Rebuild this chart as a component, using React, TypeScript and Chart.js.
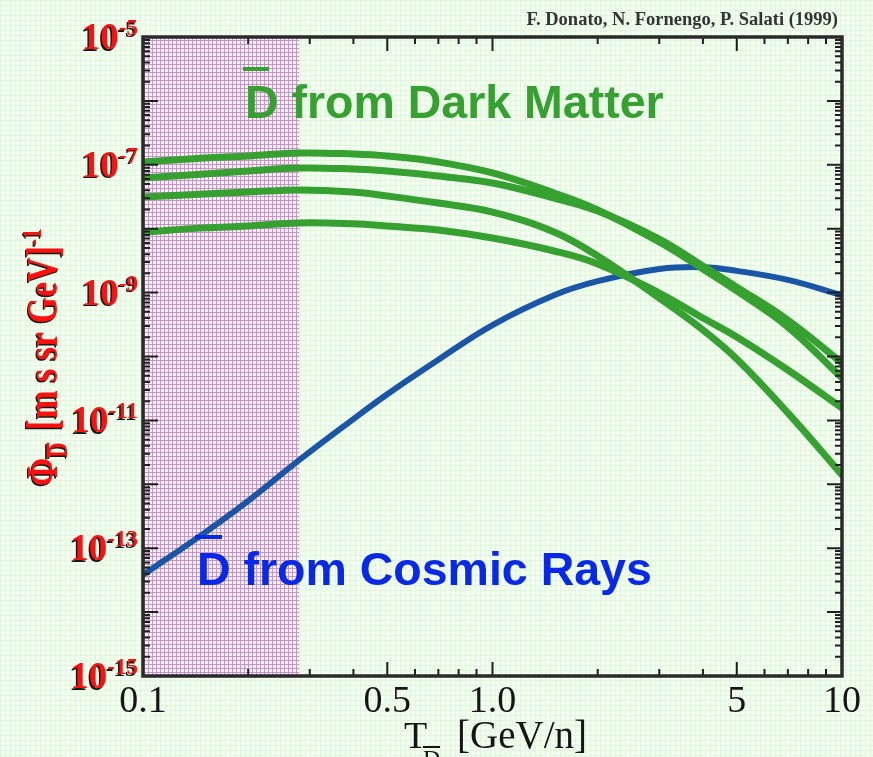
import { useEffect, useRef } from "react";
import { Chart, registerables } from "chart.js";

Chart.register(...registerables);

// Kinetic energy per nucleon [GeV/n]
const ENERGY = [0.1, 0.15, 0.2, 0.28, 0.4, 0.5, 0.7, 1.0, 1.5, 2, 3, 4, 5, 7, 10];

// Antideuteron flux from cosmic rays
const COSMIC = [3.8e-14, 1.74e-13, 5.5e-13, 2.4e-12, 1.05e-11, 2.57e-11, 8.9e-11, 3.11e-10, 9.1e-10, 1.51e-9, 2.34e-9, 2.5e-9, 2.19e-9, 1.58e-9, 9.1e-10];

// Antideuteron flux from dark matter (four models)
const DM_A = [1.107e-7, 1.276e-7, 1.374e-7, 1.531e-7, 1.476e-7, 1.374e-7, 1.107e-7, 7.45e-8, 3.62e-8, 1.96e-8, 6.19e-9, 2.34e-9, 1.06e-9, 2.9e-10, 4.61e-11];
const DM_B = [6.21e-8, 7.18e-8, 8.0e-8, 8.91e-8, 8.59e-8, 8.0e-8, 6.68e-8, 5.19e-8, 3.02e-8, 1.89e-8, 6.9e-9, 2.61e-9, 1.22e-9, 3.72e-10, 7.91e-11];
const DM_C = [3.13e-8, 3.49e-8, 3.75e-8, 4.04e-8, 3.75e-8, 3.25e-8, 2.52e-8, 1.82e-8, 8.87e-9, 3.74e-9, 8.22e-10, 2.6e-10, 9.14e-11, 1.31e-11, 1.4e-12];
const DM_D = [8.87e-9, 1.03e-8, 1.1e-8, 1.23e-8, 1.19e-8, 1.1e-8, 9.55e-9, 7.14e-9, 4.48e-9, 2.81e-9, 9.86e-10, 4.01e-10, 2.02e-10, 6.15e-11, 1.56e-11];

// Axis ticks
const X_MAJOR = [0.1, 0.5, 1, 5, 10];
const X_LABELS = ["0.1", "0.5", "1.0", "5", "10"];
const X_MINOR = [0.2, 0.3, 0.4, 0.6, 0.7, 0.8, 0.9, 2, 3, 4, 6, 7, 8, 9];
const Y_DECADES = [-15, -14, -13, -12, -11, -10, -9, -8, -7, -6, -5];
const Y_LABEL_EXPONENTS = [-5, -7, -9, -11, -13, -15];

// Shaded (solar modulation) region upper edge
const SHADE_MAX = 0.28;

const AUTHORS = "F. Donato, N. Fornengo, P. Salati (1999)";
const DM_TEXT = "D from Dark Matter";
const CR_TEXT = "D from Cosmic Rays";

const GREEN = "#36a031";
const BLUE_LINE = "#1a55a6";
const BLUE_TEXT = "#0a28e8";
const RED = "#ff1010";

function makePattern(ctx: CanvasRenderingContext2D) {
  const c = document.createElement("canvas");
  c.width = 4;
  c.height = 4;
  const p = c.getContext("2d")!;
  p.fillStyle = "#f7eff7";
  p.fillRect(0, 0, 4, 4);
  p.fillStyle = "#c198c1";
  p.fillRect(0, 0, 4, 1);
  p.fillRect(0, 0, 1, 4);
  return ctx.createPattern(c, "repeat")!;
}

const decor = {
  id: "decor",
  beforeDatasetsDraw(chart: any) {
    const { ctx, chartArea: a, scales } = chart;
    const x = scales.x;
    const x0 = x.getPixelForValue(ENERGY[0]);
    const x1 = x.getPixelForValue(SHADE_MAX);
    ctx.save();
    ctx.fillStyle = makePattern(ctx);
    ctx.fillRect(x0, a.top, x1 - x0, a.bottom - a.top);
    ctx.restore();
  },
  afterDatasetsDraw(chart: any) {
    const { ctx, chartArea: a, scales } = chart;
    const x = scales.x;
    const y = scales.y;
    ctx.save();

    // ticks (inward, all four sides)
    ctx.strokeStyle = "#1e1e1e";
    ctx.lineWidth = 2;
    ctx.beginPath();
    for (const e of Y_DECADES) {
      const py = y.getPixelForValue(Math.pow(10, e));
      ctx.moveTo(a.left, py);
      ctx.lineTo(a.left + 15, py);
      ctx.moveTo(a.right, py);
      ctx.lineTo(a.right - 15, py);
      if (e < -5) {
        for (let m = 2; m <= 9; m++) {
          const pm = y.getPixelForValue(m * Math.pow(10, e));
          ctx.moveTo(a.left, pm);
          ctx.lineTo(a.left + 7, pm);
          ctx.moveTo(a.right, pm);
          ctx.lineTo(a.right - 7, pm);
        }
      }
    }
    for (const v of X_MAJOR) {
      const px = x.getPixelForValue(v);
      ctx.moveTo(px, a.bottom);
      ctx.lineTo(px, a.bottom - 14);
      ctx.moveTo(px, a.top);
      ctx.lineTo(px, a.top + 14);
    }
    for (const v of X_MINOR) {
      const px = x.getPixelForValue(v);
      ctx.moveTo(px, a.bottom);
      ctx.lineTo(px, a.bottom - 7);
      ctx.moveTo(px, a.top);
      ctx.lineTo(px, a.top + 7);
    }
    ctx.stroke();

    // frame
    ctx.strokeStyle = "#2a2a2a";
    ctx.lineWidth = 3.5;
    ctx.strokeRect(a.left, a.top, a.right - a.left, a.bottom - a.top);

    // x tick labels
    ctx.fillStyle = "#151515";
    ctx.font = '38px "Liberation Serif"';
    ctx.textAlign = "center";
    ctx.textBaseline = "alphabetic";
    X_MAJOR.forEach((v, i) => {
      ctx.fillText(X_LABELS[i], x.getPixelForValue(v), a.bottom + 36);
    });

    // x title: T_Dbar [GeV/n]
    ctx.textAlign = "left";
    ctx.font = '38px "Liberation Serif"';
    ctx.fillText("T", 404, 748);
    ctx.font = '24px "Liberation Serif"';
    ctx.fillText("D", 423, 766);
    ctx.fillRect(423, 746, 17, 2);
    ctx.font = '39px "Liberation Serif"';
    ctx.fillText("[GeV/n]", 457, 748);

    // y tick labels (red with dark shadow)
    ctx.shadowColor = "rgba(0,0,0,0.9)";
    ctx.shadowOffsetX = -1.5;
    ctx.shadowOffsetY = 1.5;
    ctx.shadowBlur = 0.5;
    ctx.fillStyle = RED;
    ctx.textAlign = "left";
    for (const e of Y_LABEL_EXPONENTS) {
      const py = y.getPixelForValue(Math.pow(10, e));
      ctx.font = 'bold 23px "Liberation Serif"';
      const sup = "-" + String(-e);
      const ws = ctx.measureText(sup).width;
      ctx.font = 'bold 37px "Liberation Serif"';
      const w10 = ctx.measureText("10").width;
      const right = 138;
      ctx.fillText("10", right - ws - w10, py + 12);
      ctx.font = 'bold 23px "Liberation Serif"';
      ctx.fillText(sup, right - ws, py - 2);
    }

    // y title (rotated)
    ctx.save();
    ctx.translate(57, 486);
    ctx.rotate(-Math.PI / 2);
    ctx.scale(1, 1.3);
    ctx.font = 'bold 34px "Liberation Serif"';
    let cx = 0;
    ctx.fillText("\u03A6", cx, 0);
    cx += ctx.measureText("\u03A6").width;
    ctx.font = 'bold 21px "Liberation Serif"';
    ctx.fillText("D", cx, 8);
    ctx.fillRect(cx, -8, ctx.measureText("D").width, 2);
    cx += ctx.measureText("D").width + 4;
    ctx.font = 'bold 34px "Liberation Serif"';
    const mid = " [m s sr GeV]";
    ctx.fillText(mid, cx, 0);
    cx += ctx.measureText(mid).width;
    ctx.font = 'bold 21px "Liberation Serif"';
    ctx.fillText("-1", cx, -12);
    ctx.restore();

    ctx.shadowColor = "transparent";
    ctx.shadowOffsetX = 0;
    ctx.shadowOffsetY = 0;
    ctx.shadowBlur = 0;

    // authors
    ctx.fillStyle = "#333333";
    ctx.font = 'bold 18.5px "Liberation Serif"';
    ctx.textAlign = "right";
    ctx.fillText(AUTHORS, 838, 25);

    // annotations
    ctx.textAlign = "left";
    ctx.font = 'bold 46.5px "Liberation Sans"';
    ctx.fillStyle = GREEN;
    ctx.fillText(DM_TEXT, 245, 118);
    ctx.fillRect(243, 67, 26, 4);
    ctx.fillStyle = BLUE_TEXT;
    ctx.fillText(CR_TEXT, 197, 585);
    ctx.fillRect(195, 535, 27, 4);

    ctx.restore();
  },
};

function series(vals: number[]) {
  return ENERGY.map((t, i) => ({ x: t, y: vals[i] }));
}

export default function App() {
  const ref = useRef<HTMLCanvasElement | null>(null);
  useEffect(() => {
    if (!ref.current) return;
    const line = (vals: number[], color: string, w: number) => ({
      data: series(vals),
      borderColor: color,
      borderWidth: w,
      pointRadius: 0,
      tension: 0.4,
      borderCapStyle: "round" as const,
      fill: false,
    });
    const chart = new Chart(ref.current, {
      type: "line",
      data: {
        datasets: [
          line(DM_A, GREEN, 7),
          line(DM_B, GREEN, 7),
          line(DM_C, GREEN, 7),
          line(DM_D, GREEN, 7),
          line(COSMIC, BLUE_LINE, 6),
        ],
      },
      options: {
        animation: false,
        responsive: false,
        devicePixelRatio: 1,
        layout: { padding: { top: 37, right: 31, left: 0, bottom: 0 } },
        plugins: { legend: { display: false }, tooltip: { enabled: false } },
        scales: {
          x: {
            type: "logarithmic",
            min: 0.1,
            max: 10,
            ticks: { display: false },
            grid: { display: false },
            border: { display: false },
            afterFit: (s: any) => {
              s.height = 81;
            },
          },
          y: {
            type: "logarithmic",
            min: 1e-15,
            max: 1e-5,
            ticks: { display: false },
            grid: { display: false },
            border: { display: false },
            afterFit: (s: any) => {
              s.width = 143;
            },
          },
        },
      },
      plugins: [decor],
    });
    return () => chart.destroy();
  }, []);
  return (
    <div
      style={{
        position: "absolute",
        left: 0,
        top: 0,
        width: 873,
        height: 757,
        overflow: "hidden",
        backgroundColor: "#f3fff1",
        backgroundImage:
          "linear-gradient(#e0f7dc 1px, transparent 1px), linear-gradient(90deg, #e0f7dc 1px, transparent 1px)",
        backgroundSize: "5px 5px",
      }}
    >
      <canvas ref={ref} width={873} height={757} style={{ display: "block" }} />
    </div>
  );
}
